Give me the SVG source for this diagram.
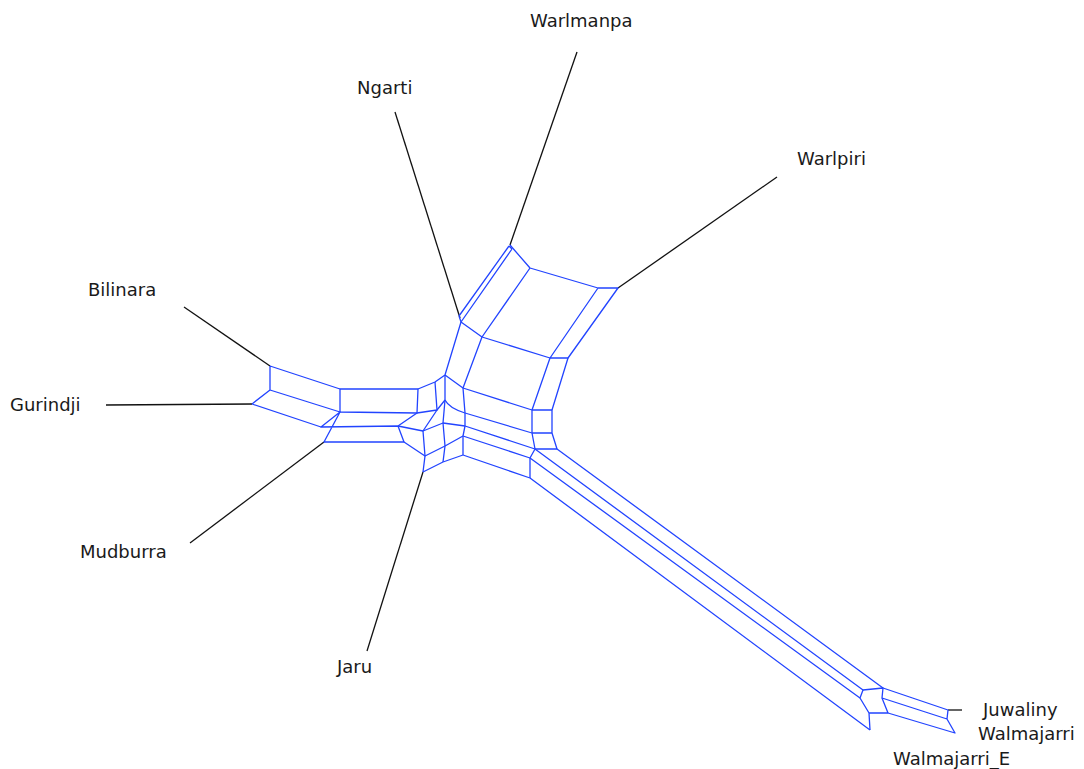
<svg xmlns="http://www.w3.org/2000/svg" width="1084" height="769" viewBox="0 0 1084 769">
<style>
.net{fill:none;stroke:#2244ff;stroke-width:1.3;stroke-linejoin:round}
.leaf{fill:none;stroke:#111;stroke-width:1.3}
.lbl{font-family:"DejaVu Sans","Noto Sans",sans-serif;font-size:18px;fill:#1a1a1a}
</style>
<rect width="1084" height="769" fill="#ffffff"/>
<g id="connectors">
<g id="pendants" class="leaf">
<path d="M577,52 L510,245"/>
<path d="M395,112 L460,318"/>
<path d="M777,177 L618,288"/>
<path d="M184,307 L270,366"/>
<path d="M106,405 L252,404"/>
<path d="M190,543 L324,442"/>
<path d="M367,651 L423,472"/>
<path d="M948,710 L962,710"/>
</g>
<g id="network" class="net">
<!-- left part -->
<path d="M270,366 L270,390 M270,366 L340,389 M270,390 L340,412 M252,404 L270,390 M252,404 L321,427"/>
<path d="M340,389 L418,389 L417,413 L340,412 Z"/>
<path d="M340,412 L321,427 L398,426 L404,442 L324,442 Z M417,413 L398,426"/>
<!-- column grid centre -->
<path d="M418,389 L435,382 L445,375 M417,413 L437,410 L445,400 M398,426 L423,431 L443,423 M404,442 L425,456 L445,446 M423,472 L443,462"/>
<path d="M435,382 L437,410 L423,431 L425,456 L423,472"/>
<path d="M445,375 L445,400 L443,423 L445,446 L443,462"/>
<path d="M445,375 L463,388 M445,400 Q449,408 465,413 M443,423 L465,426 M445,446 L463,436 M443,462 L463,455"/>
<path d="M463,388 L465,413 L465,426 L463,436 L463,455"/>
<!-- top part -->
<path d="M509,246 L459,316 M512,249 L461,322 M509,246 L512,249 M459,316 L461,322"/>
<path d="M510,245 L530,268 L598,288 L618,288 L568,358 L550,358 L482,337 L461,322 M530,268 L482,337 M598,288 L550,358"/>
<path d="M461,322 L445,375 M482,337 L463,388 M550,358 L532,410 M568,358 L552,410"/>
<!-- right block -->
<path d="M532,410 L552,410 L552,433 L532,433 Z M532,433 L535,449 L557,449 L552,433 M535,449 L530,458 L530,478"/>
<path d="M463,388 L532,410 M465,413 L532,433 M465,426 L535,449 M463,436 L530,458 M463,455 L530,478"/>
<!-- long arm -->
<path d="M557,449 L883,688 M535,449 L863,690 M530,458 L860,698 M530,478 L870,730"/>
<!-- end -->
<path d="M863,690 L883,688 L882,698 L888,713 L869,713 L860,698 L863,690 M869,713 L870,730"/>
<path d="M883,688 L948,710 L947,719 L955,733 L888,713 M882,698 L947,719"/>
</g>
</g>
<g id="node-Warlmanpa"><text class="lbl" x="530" y="27">Warlmanpa</text></g>
<g id="node-Ngarti"><text class="lbl" x="357" y="94">Ngarti</text></g>
<g id="node-Warlpiri"><text class="lbl" x="797" y="165">Warlpiri</text></g>
<g id="node-Bilinara"><text class="lbl" x="88" y="296">Bilinara</text></g>
<g id="node-Gurindji"><text class="lbl" x="10" y="411">Gurindji</text></g>
<g id="node-Mudburra"><text class="lbl" x="80" y="558">Mudburra</text></g>
<g id="node-Jaru"><text class="lbl" x="337" y="673">Jaru</text></g>
<g id="node-Juwaliny"><text class="lbl" x="983" y="716">Juwaliny</text></g>
<g id="node-Walmajarri"><text class="lbl" x="978" y="740">Walmajarri</text></g>
<g id="node-Walmajarri_E"><text class="lbl" x="893" y="765">Walmajarri_E</text></g>
</svg>
